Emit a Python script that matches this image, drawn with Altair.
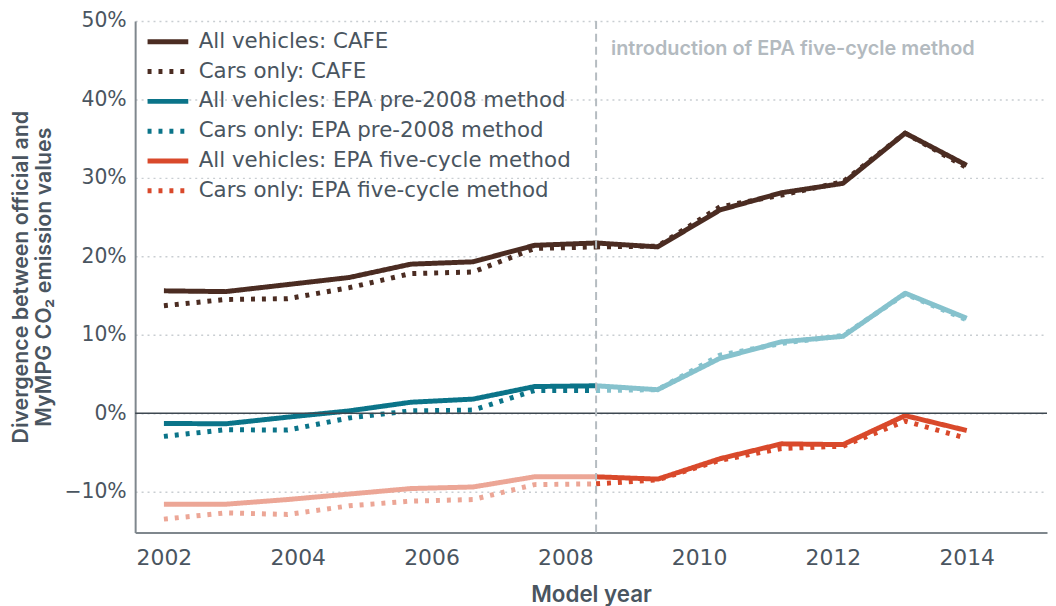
import altair as alt
import pandas as pd

# x positions of the 14 data points (model years, evenly spaced from 2002 to 2014)
years = [2002.0, 2002.92, 2003.85, 2004.77, 2005.69, 2006.62, 2007.54,
         2008.46, 2009.38, 2010.31, 2011.23, 2012.15, 2013.08, 2014.0]
split_year = 2008.46
split_index = 7

series_names = [
    "All vehicles: CAFE",
    "Cars only: CAFE",
    "All vehicles: EPA pre-2008 method",
    "Cars only: EPA pre-2008 method",
    "All vehicles: EPA five-cycle method",
    "Cars only: EPA five-cycle method",
]
cafe_all = [15.6, 15.5, 16.4, 17.3, 19.0, 19.3, 21.4, 21.7, 21.2, 25.9, 28.1, 29.3, 35.7, 31.6]
cafe_cars = [13.7, 14.5, 14.6, 16.0, 17.8, 18.0, 21.0, 21.2, 21.3, 26.3, 27.8, 29.5, 35.7, 31.3]
pre_all = [-1.3, -1.35, -0.5, 0.3, 1.4, 1.8, 3.4, 3.5, 3.0, 7.0, 9.1, 9.8, 15.3, 12.1]
pre_cars = [-2.95, -2.1, -2.15, -0.6, 0.3, 0.4, 2.9, 2.9, 3.0, 7.4, 8.9, 9.9, 15.2, 11.9]
five_all = [-11.6, -11.6, -11.0, -10.3, -9.6, -9.4, -8.1, -8.1, -8.4, -5.8, -3.9, -4.0, -0.3, -2.2]
five_cars = [-13.5, -12.7, -12.9, -11.8, -11.2, -11.0, -9.1, -9.0, -8.5, -6.0, -4.5, -4.2, -1.0, -3.2]
series_values = [cafe_all, cafe_cars, pre_all, pre_cars, five_all, five_cars]

# legend / main colours, and the faded colours of the other period
main_colors = ["#4b2c22", "#4b2c22", "#0b7489", "#0b7489", "#d9492b", "#d9492b"]
dashes = [[1, 0], [4, 7], [1, 0], [4, 7], [1, 0], [4, 7]]
light_teal = "#86c2cd"
light_salmon = "#eca696"

annotation = "introduction of EPA five-cycle method"

rows = []
for s, vals in zip(series_names, series_values):
    for i, (x, v) in enumerate(zip(years, vals)):
        if i <= split_index:
            rows.append({"year": x, "value": v, "series": s, "seg": "pre"})
        if i >= split_index:
            rows.append({"year": x, "value": v, "series": s, "seg": "post"})
df = pd.DataFrame(rows)

is_cafe = df["series"].str.contains("CAFE")
is_pre = df["series"].str.contains("pre-2008")
is_five = df["series"].str.contains("five-cycle")

main_df = df[is_cafe | (is_pre & (df["seg"] == "pre")) | (is_five & (df["seg"] == "post"))]
teal_faded = df[is_pre & (df["seg"] == "post")]
salmon_faded = df[is_five & (df["seg"] == "pre")]

LABEL_FONT = "DejaVu Sans"
TITLE_FONT = "Inter"
TXT = "#4a5560"

x_scale = alt.Scale(domain=[2001.57, 2015.2], nice=False, zero=False)
y_scale = alt.Scale(domain=[-15.2, 50], nice=False, zero=False)

x_enc = alt.X("year:Q", scale=x_scale,
              axis=alt.Axis(values=[2002, 2004, 2006, 2008, 2010, 2012, 2014], format="d",
                            title="Model year", grid=False, ticks=False,
                            labelFontSize=22, titleFontSize=22.5,
                            labelPadding=15, titlePadding=15))
y_enc = alt.Y("value:Q", scale=y_scale,
              axis=alt.Axis(values=[-10, 0, 10, 20, 30, 40, 50],
                            labelExpr="datum.value < 0 ? '\u2212' + abs(datum.value) + '%' : datum.value + '%'",
                            title=["Divergence between official and", "MyMPG CO\u2082 emission values"],
                            labelFontSize=20.5, titleFontSize=21.5,
                            grid=True, ticks=False, labelPadding=9, titlePadding=8))

legend = alt.Legend(title=None, orient="none", legendX=10, legendY=6,
                    symbolType="stroke", symbolSize=1681, symbolStrokeWidth=5,
                    labelFontSize=21.5, labelColor=TXT, labelFont=LABEL_FONT,
                    clipHeight=30, rowPadding=0, labelOffset=8, labelLimit=600)

color_enc = alt.Color("series:N", scale=alt.Scale(domain=series_names, range=main_colors), legend=legend)
dash_enc = alt.StrokeDash("series:N", scale=alt.Scale(domain=series_names, range=dashes), legend=legend)

main_lines = alt.Chart(main_df).mark_line(strokeWidth=5, strokeJoin="round").encode(
    x=x_enc, y=y_enc, color=color_enc, strokeDash=dash_enc,
    detail="seg:N", order="year:Q")

teal_lines = alt.Chart(teal_faded).mark_line(strokeWidth=5, strokeJoin="round", color=light_teal).encode(
    x="year:Q", y="value:Q", strokeDash=alt.StrokeDash("series:N", legend=legend),
    detail="seg:N", order="year:Q")

salmon_lines = alt.Chart(salmon_faded).mark_line(strokeWidth=5, strokeJoin="round", color=light_salmon).encode(
    x="year:Q", y="value:Q", strokeDash=alt.StrokeDash("series:N", legend=legend),
    detail="seg:N", order="year:Q")

zero_rule = alt.Chart(pd.DataFrame({"value": [0]})).mark_rule(color="#3e4851", strokeWidth=1.3).encode(
    y="value:Q")

split_df = pd.DataFrame({"year": [split_year], "value": [50], "text": [annotation]})
split_rule = alt.Chart(split_df).mark_rule(color="#b5bcc1", strokeWidth=2, strokeDash=[8, 5]).encode(
    x="year:Q")
split_text = alt.Chart(split_df).mark_text(align="left", baseline="middle", dx=15, dy=28,
                                           font=TITLE_FONT, fontSize=20, fontWeight=600,
                                           color="#b3babf").encode(
    x="year:Q", y="value:Q", text="text:N")

chart = alt.layer(salmon_lines, teal_lines, main_lines, zero_rule, split_rule, split_text).properties(
    width=918, height=515,
    padding={"left": 2, "top": 1, "right": 0, "bottom": 0},
).configure_view(stroke=None).configure_axis(
    labelFont=LABEL_FONT, titleFont=TITLE_FONT,
    labelColor=TXT, titleColor=TXT, titleFontWeight=600,
    domainColor="#7f878d", domainWidth=2,
    gridColor="#c9ced2", gridDash=[2, 4], gridWidth=1.5,
)

chart.save("out.html", embed_options={"renderer": "svg", "actions": False})
